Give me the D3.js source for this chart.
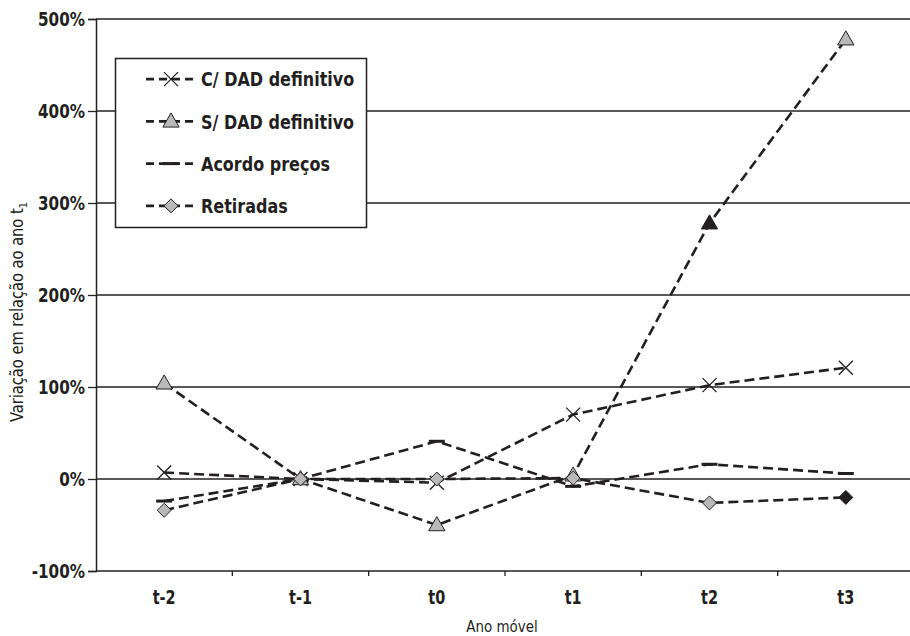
<!DOCTYPE html>
<html>
<head>
<meta charset="utf-8">
<script src="https://cdn.jsdelivr.net/npm/d3@7"></script>
<style>
  html, body { margin: 0; padding: 0; background: #fff; }
  svg { display: block; }
</style>
</head>
<body>
<svg id="chart" width="910" height="636"></svg>
<script>
// Categories along the x axis
const categories = ["t-2", "t-1", "t0", "t1", "t2", "t3"];

// Series values (% change relative to year t1)
const comDAD    = [7, 0, -4, 70, 102, 121];
const semDAD    = [104, 0, -50, 4, 278, 478];
const acordo    = [-24, 0, 41, -8, 16, 6];
const retiradas = [-34, 0, 0, 1, -26, -20];

// Y tick values
const yTicks = [-100, 0, 100, 200, 300, 400, 500];

// Series names for the legend
const seriesNames = ["C/ DAD definitivo", "S/ DAD definitivo", "Acordo preços", "Retiradas"];

const svg = d3.select("#chart");
const W = 910, H = 636;
const m = { left: 96, right: 914, top: 19, bottom: 571 };

const x = d3.scaleBand().domain(categories).range([m.left, m.right]);
const cx = c => x(c) + x.bandwidth() / 2;
const y = d3.scaleLinear().domain([-100, 500]).range([m.bottom, m.top]);

const ink = "#231f20";
const grey = "#b9b9b9";
const font = "'DejaVu Sans', sans-serif";

// Narrow a text element horizontally to mimic a condensed face
function condense(sel, factor) {
  sel.each(function () {
    const w = this.getComputedTextLength();
    d3.select(this).attr("textLength", w * factor).attr("lengthAdjust", "spacingAndGlyphs");
  });
}

// Horizontal gridlines
svg.append("g")
  .selectAll("line")
  .data(yTicks.filter(v => v > -100))
  .join("line")
  .attr("x1", m.left).attr("x2", W)
  .attr("y1", d => y(d)).attr("y2", d => y(d))
  .attr("stroke", ink).attr("stroke-width", 1.3);

// Y axis
const yAxis = svg.append("g")
  .attr("transform", `translate(${m.left},0)`)
  .call(d3.axisLeft(y).tickValues(yTicks).tickSize(8).tickPadding(3).tickFormat(d => d + "%"));
yAxis.select(".domain").attr("stroke", ink).attr("stroke-width", 1.5);
yAxis.selectAll(".tick line").attr("stroke", ink).attr("stroke-width", 1.3);
yAxis.selectAll(".tick text")
  .attr("fill", ink)
  .attr("dy", "0.36em")
  .style("font-family", font)
  .style("font-weight", "bold")
  .style("font-size", "19px")
  .call(condense, 0.8);

// X axis: baseline with ticks at band boundaries
svg.append("line")
  .attr("x1", m.left).attr("x2", W)
  .attr("y1", m.bottom).attr("y2", m.bottom)
  .attr("stroke", ink).attr("stroke-width", 1.5);
svg.append("g")
  .selectAll("line")
  .data(categories.slice(1))
  .join("line")
  .attr("x1", d => x(d)).attr("x2", d => x(d))
  .attr("y1", m.bottom).attr("y2", m.bottom + 5)
  .attr("stroke", ink).attr("stroke-width", 1.3);
svg.append("g")
  .selectAll("text")
  .data(categories)
  .join("text")
  .attr("x", d => cx(d))
  .attr("y", 604)
  .attr("text-anchor", "middle")
  .attr("fill", ink)
  .style("font-family", font)
  .style("font-weight", "bold")
  .style("font-size", "19px")
  .text(d => d)
  .call(condense, 0.76);

// Axis titles
svg.append("text")
  .attr("x", 502).attr("y", 632)
  .attr("text-anchor", "middle")
  .attr("fill", ink)
  .style("font-family", font)
  .style("font-size", "16px")
  .text("Ano móvel")
  .call(condense, 0.84);

const yTitle = svg.append("text")
  .attr("transform", "translate(23,312) rotate(-90)")
  .attr("text-anchor", "middle")
  .attr("fill", ink)
  .style("font-family", font)
  .style("font-size", "17px");
yTitle.append("tspan").text("Variação em relação ao ano t").call(condense, 0.86);
yTitle.append("tspan").attr("dy", 4).style("font-size", "10px").text("1");

// Series definitions
const series = [
  { name: seriesNames[0], values: comDAD, marker: "cross" },
  { name: seriesNames[1], values: semDAD, marker: "triangle", dark: 4 },
  { name: seriesNames[2], values: acordo, marker: "bar" },
  { name: seriesNames[3], values: retiradas, marker: "diamond", dark: 5 }
];

const line = d3.line().x((d, i) => cx(categories[i])).y(d => y(d));
const dash = "10,5";

function drawMarker(g, type, px, py, dark) {
  if (type === "cross") {
    const s = 7;
    g.append("path")
      .attr("d", `M${px - s},${py - s}L${px + s},${py + s}M${px - s},${py + s}L${px + s},${py - s}`)
      .attr("stroke", ink).attr("stroke-width", 1.3).attr("fill", "none");
  } else if (type === "triangle") {
    g.append("path")
      .attr("d", d3.symbol(d3.symbolTriangle, 115)())
      .attr("transform", `translate(${px},${py + 1})`)
      .attr("fill", dark ? ink : grey)
      .attr("stroke", ink).attr("stroke-width", 1);
  } else if (type === "diamond") {
    const s = 7;
    g.append("path")
      .attr("d", `M${px},${py - s}L${px + s},${py}L${px},${py + s}L${px - s},${py}Z`)
      .attr("fill", dark ? ink : grey)
      .attr("stroke", ink).attr("stroke-width", 1);
  } else if (type === "bar") {
    g.append("line")
      .attr("x1", px - 8).attr("x2", px + 8)
      .attr("y1", py).attr("y2", py)
      .attr("stroke", ink).attr("stroke-width", 3);
  }
}

const plot = svg.append("g");
series.forEach(s => {
  plot.append("path")
    .attr("d", line(s.values))
    .attr("fill", "none")
    .attr("stroke", ink)
    .attr("stroke-width", 2.6)
    .attr("stroke-dasharray", dash);
});
series.forEach(s => {
  const g = plot.append("g");
  s.values.forEach((v, i) => drawMarker(g, s.marker, cx(categories[i]), y(v), s.dark === i));
});

// Legend
const legend = svg.append("g");
legend.append("rect")
  .attr("x", 115.5).attr("y", 58.5).attr("width", 251).attr("height", 169)
  .attr("fill", "#fff").attr("stroke", ink).attr("stroke-width", 1.5);
const ly = d3.scaleBand().domain(seriesNames).range([58, 227]);
series.forEach(s => {
  const yy = ly(s.name) + ly.bandwidth() / 2;
  legend.append("line")
    .attr("x1", 146).attr("x2", 197)
    .attr("y1", yy).attr("y2", yy)
    .attr("stroke", ink).attr("stroke-width", 2.6)
    .attr("stroke-dasharray", "8,5");
  drawMarker(legend, s.marker, 171, yy, false);
  legend.append("text")
    .attr("x", 201).attr("y", yy)
    .attr("dy", "0.36em")
    .attr("fill", ink)
    .style("font-family", font)
    .style("font-weight", "bold")
    .style("font-size", "20px")
    .text(s.name)
    .call(condense, 0.8);
});
</script>
</body>
</html>
